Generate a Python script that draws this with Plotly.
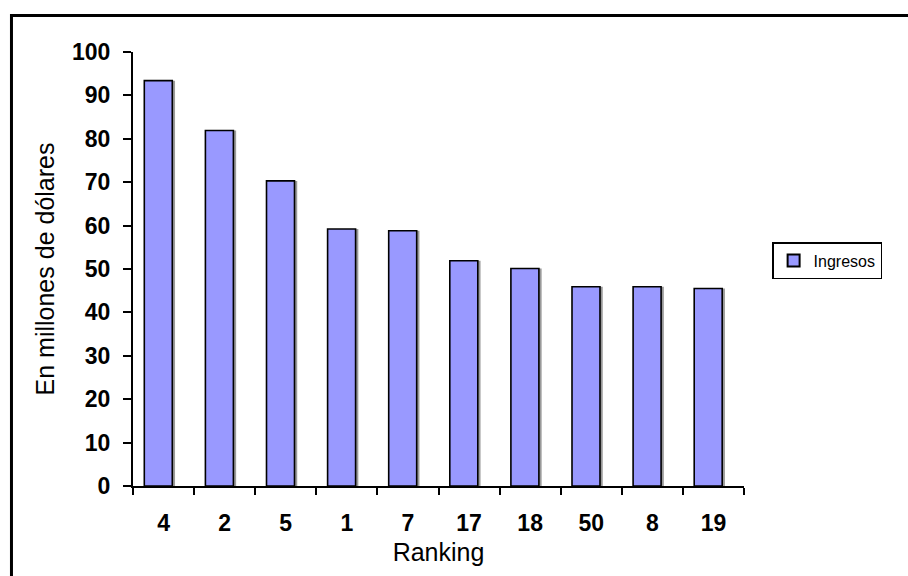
import plotly.graph_objects as go

# Revenue by ranking position (millions of dollars)
ranking = ["4", "2", "5", "1", "7", "17", "18", "50", "8", "19"]
ingresos = [93.4, 81.9, 70.3, 59.2, 58.8, 51.9, 50.1, 45.9, 45.9, 45.5]

FONT = "Arial, Liberation Sans, sans-serif"
BAR_W = 0.458
BAR_OFF = -0.315

fig = go.Figure()

# soft drop shadow behind each bar
fig.add_trace(go.Bar(
    x=ranking, y=ingresos, width=BAR_W, offset=BAR_OFF + 0.045,
    marker=dict(color="#9a9a9a", line=dict(width=0)),
    showlegend=False, hoverinfo="skip",
))

fig.add_trace(go.Bar(
    x=ranking, y=ingresos, name="Ingresos", width=BAR_W, offset=BAR_OFF,
    marker=dict(color="#9999FF", line=dict(color="black", width=1.6)),
))

fig.update_layout(
    width=908, height=576,
    margin=dict(l=133, r=164, t=52, b=90),
    paper_bgcolor="white", plot_bgcolor="white",
    barmode="overlay",
    font=dict(family=FONT, color="black"),
    showlegend=True,
    legend=dict(
        x=1.046, y=0.562, xanchor="left", yanchor="top",
        bordercolor="black", borderwidth=1.5, bgcolor="white",
        font=dict(family=FONT, size=16, color="black"),
        itemwidth=30, itemsizing="constant",
    ),
    xaxis=dict(
        type="category", tickson="boundaries",
        showline=True, linecolor="black", linewidth=2,
        ticks="outside", ticklen=7, tickwidth=2, tickcolor="black",
        tickfont=dict(family=FONT, size=23, color="black", weight="bold"),
        ticklabelstandoff=15,
        showgrid=False, zeroline=False,
        title=dict(text="Ranking", font=dict(family=FONT, size=25, color="black"), standoff=9),
    ),
    yaxis=dict(
        range=[0, 100], dtick=10, tick0=0,
        showline=True, linecolor="black", linewidth=2,
        ticks="outside", ticklen=8, tickwidth=2, tickcolor="black",
        tickfont=dict(family=FONT, size=23, color="black", weight="bold"),
        ticklabelstandoff=8,
        showgrid=False, zeroline=False,
        title=dict(text="En millones de dólares", font=dict(family=FONT, size=25, color="black"), standoff=10),
    ),
    shapes=[
        # outer chart frame, running off the right and bottom edges
        dict(type="rect", xref="paper", yref="paper",
             x0=-0.1989, x1=2.0, y0=-1.0, y1=1.084,
             line=dict(color="black", width=3), fillcolor="rgba(0,0,0,0)", layer="above"),
    ],
)

fig.write_html("out.html")
